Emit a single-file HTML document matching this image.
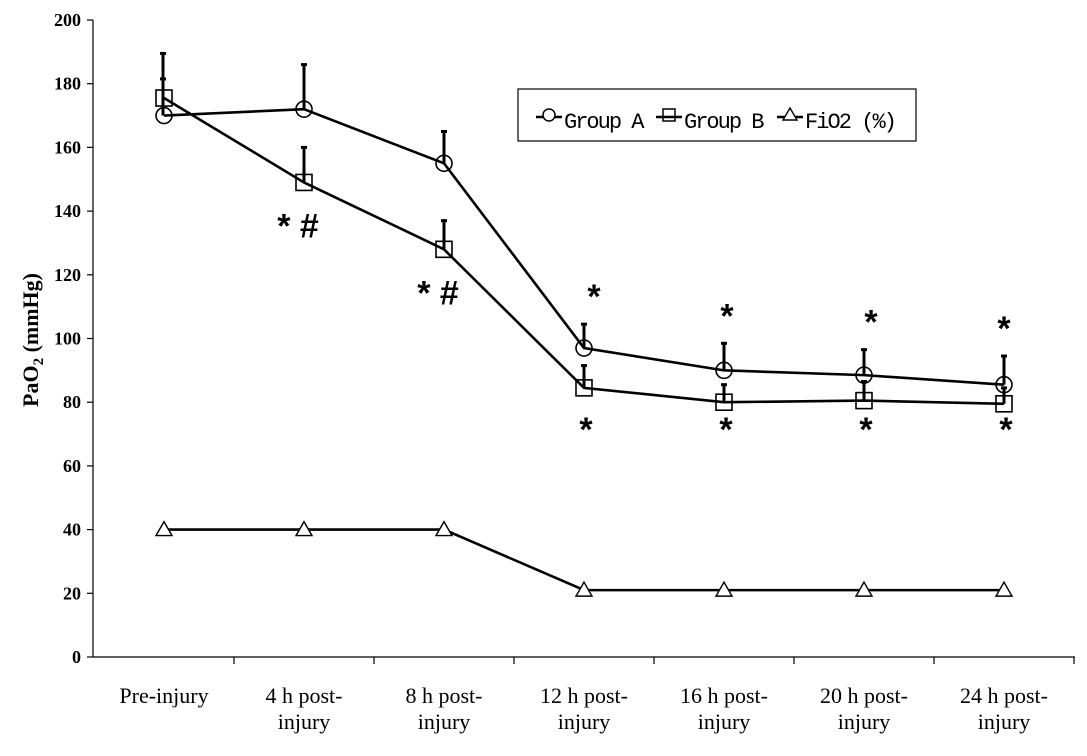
<!DOCTYPE html>
<html><head><meta charset="utf-8"><style>
body{margin:0;background:#fff}
svg{display:block;font-family:"Liberation Serif",serif}
</style></head><body>
<svg id="c" width="1087" height="756"></svg>
<script>
const categories=[["Pre-injury"],["4 h post-","injury"],["8 h post-","injury"],["12 h post-","injury"],["16 h post-","injury"],["20 h post-","injury"],["24 h post-","injury"]];
const groupA=[170,172,155,97,90,88.5,85.5];
const groupAErr=[11.5,14,10,7.5,8.5,8,9];
const groupB=[175.5,149,128,84.5,80,80.5,79.5];
const groupBErr=[14,11,9,7,5.5,6,5];
const fio2=[40,40,40,21,21,21,21];
const yTicks=[0,20,40,60,80,100,120,140,160,180,200];
const annotAbove=["","","","*","*","*","*"];
const annotBelowB=["","* #","* #","*","*","*","*"];

const NS="http://www.w3.org/2000/svg";
const svg=document.getElementById('c');
const X0=93,X1=1075,Y0=657,Y1=20;
const y=v=>Y0-(v/200)*(Y0-Y1);
const x=i=>164+i*140;
function el(t,a,p){const e=document.createElementNS(NS,t);for(const k in a)e.setAttribute(k,a[k]);(p||svg).appendChild(e);return e;}
function line(x1,y1,x2,y2,w,n){const e=el('line',{x1,y1,x2,y2,stroke:'#000','stroke-width':w||1});

return e;}
function text(tx,ty,s,a,n){const e=el('text',a);e.setAttribute('x',tx);e.setAttribute('y',ty);e.textContent=s;

return e;}

line(X0,Y1,X0,Y0,1.2,'y-axis');
line(X0,Y0,X1,Y0,1.2,'x-axis');
yTicks.forEach(v=>{line(X0-6,y(v),X0,y(v),1.2,'y-tick');
text(X0-12,y(v)+6,v,{'text-anchor':'end','font-size':18,'font-weight':'bold'},'y-tick-label');});
for(let i=1;i<=categories.length;i++){const tx=X0+i*140+1;line(tx,Y0,tx,Y0+7,1.2,'x-tick');}
categories.forEach((c,i)=>c.forEach((s,j)=>text(x(i),y(0)+46+j*26,s,{'text-anchor':'middle','font-size':22},'x-tick-label')));
const yt=text(0,0,'',{'font-size':22,'font-weight':'bold','transform':'translate(38,340) rotate(-90)','text-anchor':'middle'},'y-axis-title');
yt.innerHTML='PaO<tspan font-size="15" dy="5">2</tspan><tspan dy="-5"> (mmHg)</tspan>';

function series(vals,errs,marker,name){
  const pts=vals.map((v,i)=>x(i)+','+y(v)).join(' ');
  const pl=el('polyline',{points:pts,fill:'none',stroke:'#000','stroke-width':2.6});
  
  
  vals.forEach((v,i)=>{
    if(errs){const ex=x(i)+(i==0?-1:0);line(ex,y(v),ex,y(v+errs[i]),3,name+'-error-bar');line(ex-3,y(v+errs[i]),ex+3,y(v+errs[i]),3,name+'-error-cap');}
    let m;
    if(marker=='circle')m=el('circle',{cx:x(i),cy:y(v),r:8,fill:'none',stroke:'#000','stroke-width':1.6});
    else if(marker=='square')m=el('rect',{x:x(i)-8,y:y(v)-8,width:16,height:16,fill:'none',stroke:'#000','stroke-width':1.6});
    else m=el('polygon',{points:`${x(i)},${y(v)-8} ${x(i)-8},${y(v)+6} ${x(i)+8},${y(v)+6}`,fill:'#fff',stroke:'#000','stroke-width':1.4});
    
    
  });
}
series(fio2,null,'triangle','fio2');
series(groupB,groupBErr,'square','group-b');
series(groupA,groupAErr,'circle','group-a');

const starStyle={'text-anchor':'middle','font-size':34,'font-weight':'bold','font-family':'Liberation Sans'};
annotAbove.forEach((s,i)=>{if(s)text(x(i)+([0,0,0,10,3,7,0][i]),y(groupA[i]+groupAErr[i])-16,s,starStyle,'significance-a');});
const lowB=Math.min(...groupB.slice(3));
annotBelowB.forEach((s,i)=>{if(!s)return;const below=i>=3;
text(x(i)+(below?2:-6),below?y(lowB)+37:y(groupB[i])+55,s,starStyle,'significance-b');});

const lg=el('g',{});
el('rect',{x:518,y:89,width:398,height:52,fill:'#fff',stroke:'#000','stroke-width':1.2},lg);
[['Group A','circle',536],['Group B','square',656],['FiO2 (%)','triangle',777]].forEach(([n,m,lx])=>{
  const g=el('g',{},lg);
  el('line',{x1:lx,y1:117,x2:lx+26,y2:117,stroke:'#000','stroke-width':2.4},g);
  const cx=lx+13;
  if(m=='circle')el('circle',{cx,cy:115,r:6,fill:'#fff',stroke:'#000','stroke-width':1.5},g);
  else if(m=='square')el('rect',{x:cx-6,y:109,width:12,height:12,fill:'none',stroke:'#000','stroke-width':1.5},g);
  else el('polygon',{points:`${cx},108 ${cx-7},120 ${cx+7},120`,fill:'#fff',stroke:'#000','stroke-width':1.4},g);
  const t=el('text',{x:lx+28,y:128,'font-size':22,'font-family':'Liberation Mono, monospace',textLength:n.length*11.5},g);t.textContent=n;
});
</script>
</body></html>
